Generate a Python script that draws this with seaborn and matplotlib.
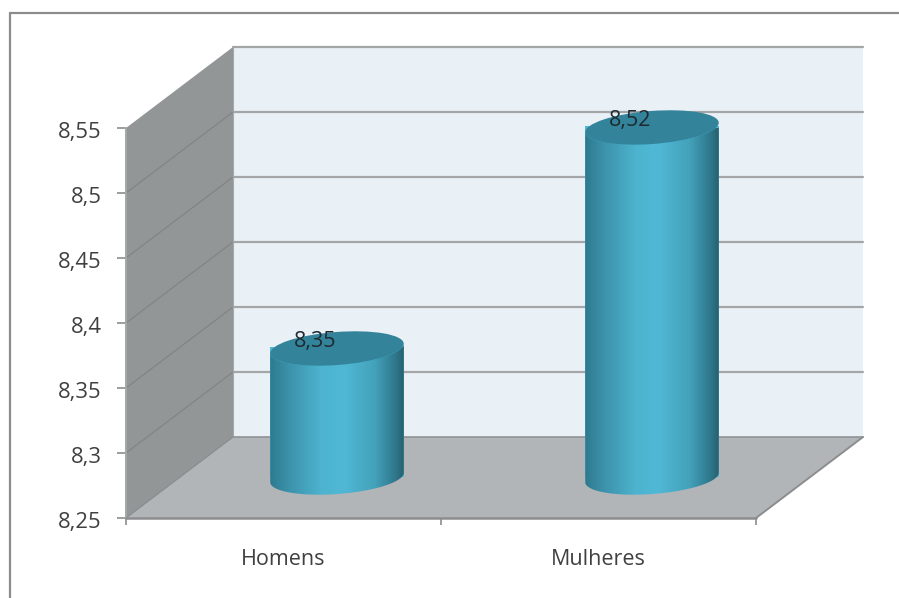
import numpy as np
import pandas as pd
import seaborn as sns
import matplotlib
matplotlib.use("Agg")
import matplotlib.pyplot as plt
from matplotlib.colors import LinearSegmentedColormap
from matplotlib.lines import Line2D
from matplotlib.patches import Ellipse, PathPatch, Polygon
from matplotlib.path import Path
from matplotlib.transforms import Affine2D, IdentityTransform

categories = ["Homens", "Mulheres"]
values = [8.35, 8.52]
value_labels = ["8,35", "8,52"]
y_ticks = [8.25, 8.30, 8.35, 8.40, 8.45, 8.50, 8.55]
y_tick_labels = ["8,25", "8,3", "8,35", "8,4", "8,45", "8,5", "8,55"]

W, H = 899, 598
DEPTH_X, DEPTH_Y = 107, 81
BAR_WIDTH = 0.425
ELL_H = 33
TILT = 4.3
GRID = "#a3a5a6"
AXIS = "#8b8d8e"
TEXT = "#404040"

sns.set_style("white")
plt.rcParams["font.family"] = ["Open Sans", "DejaVu Sans"]

fig = plt.figure(figsize=(W / 100, H / 100), dpi=100, facecolor="white")
ax = fig.add_axes([126 / W, (H - 518) / H, 630 / W, 390 / H])
ax.patch.set_visible(False)

df = pd.DataFrame({"categoria": categories, "valor": values})
sns.barplot(data=df, x="categoria", y="valor", width=BAR_WIDTH, color="#4fb8d5",
            saturation=1, ax=ax, zorder=3, clip_on=False, linewidth=0)
ax.set_xlim(-0.5, 1.5)
ax.set_ylim(y_ticks[0], y_ticks[-1])
ax.set_xlabel("")
ax.set_ylabel("")
sns.despine(ax=ax, left=True, bottom=True, top=True, right=True)


def depth_tr(d):
    return ax.transData + Affine2D().translate(DEPTH_X * d, DEPTH_Y * d)


def pts(xy, d):
    return depth_tr(d).transform(xy)


x0, x1 = ax.get_xlim()
y0, y1 = ax.get_ylim()
ident = IdentityTransform()


def poly(points, color, z):
    ax.add_patch(Polygon(points, closed=True, facecolor=color, edgecolor="none",
                         transform=ident, zorder=z, clip_on=False))


def seg(a, b, color, lw, z=1):
    a, b = np.asarray(a), np.asarray(b)
    ax.add_line(Line2D([a[0], b[0]], [a[1], b[1]], color=color, lw=lw,
                       transform=ident, zorder=z, clip_on=False))


# Walls and floor
poly([pts((x0, y0), 1), pts((x1, y0), 1), pts((x1, y1), 1), pts((x0, y1), 1)], "#e9f1f7", 0)
poly([pts((x0, y0), 0), pts((x0, y0), 1), pts((x0, y1), 1), pts((x0, y1), 0)], "#929697", 0.1)
poly([pts((x0, y0), 0), pts((x1, y0), 0), pts((x1, y0), 1), pts((x0, y0), 1)], "#b2b5b8", 0.2)

# Gridlines on back and side walls
for t in y_ticks[1:]:
    seg(pts((x0, t), 1), pts((x1, t), 1), GRID, 1.6)
for t in y_ticks[1:-1]:
    seg(pts((x0, t), 0), pts((x0, t), 1), "#7f8384", 0.8)
seg(pts((x0, y0), 0), pts((x0, y0), 1), "#85898a", 0.8)
seg(pts((x0, y0), 1), pts((x0, y1), 1), "#a5a8a9", 0.8)
seg(pts((x0, y0), 1), pts((x1, y0), 1), "#909394", 1.2)
seg(pts((x0, y0), 0), pts((x0, y1), 0), "#a5a8a9", 1.4)
seg(pts((x0, y0), 0), pts((x1, y0), 0), AXIS, 1.8)
seg(pts((x1, y0), 0), pts((x1, y0), 1), AXIS, 1.4)

# Cylinders, built from the bars seaborn drew
side_cmap = LinearSegmentedColormap.from_list(
    "cyl", [(0, "#2e7a8f"), (0.14, "#3c92aa"), (0.38, "#4db3cf"), (0.55, "#50b8d5"),
            (0.78, "#44a2bb"), (0.93, "#2f7a8f"), (1, "#27616f")])
tr = depth_tr(0.5)
rot = Affine2D().rotate_deg(TILT)
for patch, val, lab in zip(ax.patches, values, value_labels):
    left = patch.get_x()
    right = left + patch.get_width()
    mid = (left + right) / 2
    patch.set_y(y0)
    patch.set_height(val - y0)
    patch.set_transform(tr)

    top_c = tr.transform((mid, val)) - np.array([0, 1])
    bot_c = tr.transform((mid, y0))
    half_w = (tr.transform((right, y0))[0] - tr.transform((left, y0))[0]) / 2
    t = np.linspace(np.pi, 2 * np.pi, 60)
    lower = rot.transform(np.c_[half_w * np.cos(t), ELL_H / 2 * np.sin(t)])
    body = np.vstack([lower + bot_c, (lower + top_c)[::-1]])
    body_patch = PathPatch(Path(np.vstack([body, body[0]])), transform=ident,
                           facecolor="none", edgecolor="none", zorder=3)
    ax.add_patch(body_patch)
    patch.set_clip_path(body_patch)

    grad = np.linspace(0, 1, 256).reshape(1, -1)
    im = ax.imshow(grad, cmap=side_cmap, aspect="auto", interpolation="bilinear",
                   extent=(left, right, y0 - 0.02, val + 0.02), zorder=3.1)
    im.set_transform(tr)
    im.set_clip_path(body_patch)

    ax.add_patch(Ellipse(top_c, 2 * half_w, ELL_H, angle=TILT,
                         transform=ident, facecolor="#33849b", edgecolor="none",
                         zorder=4, clip_on=False))
    ax.annotate(lab, xy=(mid, val), xycoords=tr, xytext=(-16, 4),
                textcoords="offset points", ha="center", va="center",
                fontsize=15.5, color="#1e2a30", zorder=5, annotation_clip=False)

ax.set_xlim(x0, x1)
ax.set_ylim(y0, y1)

# Axis ticks and labels
ax.set_yticks(y_ticks)
ax.set_yticklabels(y_tick_labels)
ax.tick_params(axis="y", left=True, length=6.5, width=1.2, color=AXIS, pad=11,
               labelsize=15.8, labelcolor=TEXT)
ax.set_xticks([x0, (x0 + x1) / 2, x1])
ax.set_xticklabels([])
ax.set_xticks([0, 1], minor=True)
ax.set_xticklabels(categories, minor=True)
ax.tick_params(axis="x", which="major", bottom=True, length=5, width=1.2, color=AXIS)
ax.tick_params(axis="x", which="minor", bottom=False, length=0, pad=22,
               labelsize=15.5, labelcolor=TEXT)
for lbl in ax.get_yticklabels():
    lbl.set_transform(lbl.get_transform() + Affine2D().translate(0, -2))

# Outer chart frame
frame_color = "#8c8c8c"
fig.add_artist(Line2D([10 / W, 10 / W], [0, (H - 13) / H], color=frame_color, lw=1.6))
fig.add_artist(Line2D([10 / W, 1], [(H - 13) / H, (H - 13) / H], color=frame_color, lw=1.6))

fig.savefig("out.png", dpi=100, facecolor="white")
